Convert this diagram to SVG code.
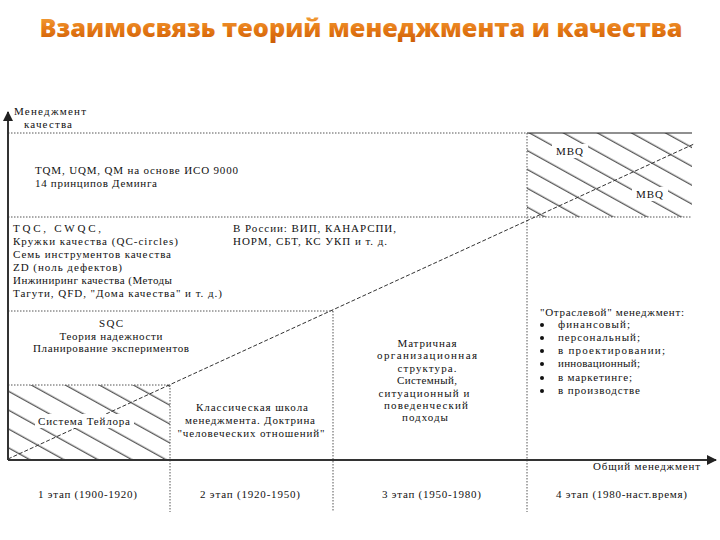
<svg xmlns="http://www.w3.org/2000/svg" width="720" height="540" viewBox="0 0 720 540">
<style>
.t{font-family:"Liberation Serif","Times New Roman",serif;font-size:11px;fill:#111}
.c{text-anchor:middle}
.dot{stroke:#555;stroke-width:1;stroke-dasharray:1.5 1.5;fill:none}
.axis{stroke:#333;stroke-width:2;fill:none}
.ttl{font-family:"Open Sans","DejaVu Sans",sans-serif;font-weight:800;font-size:25.3px;fill:url(#tg)}
</style>
<defs>
<linearGradient id="tg" x1="0" y1="0" x2="0" y2="1">
<stop offset="0" stop-color="#F8B04A"/>
<stop offset="0.55" stop-color="#E67A16"/>
<stop offset="1" stop-color="#C95A05"/>
</linearGradient>
<pattern id="hatch" patternUnits="userSpaceOnUse" width="20" height="16.5" patternTransform="rotate(29)">
<line x1="0" y1="8" x2="20" y2="8" stroke="#222" stroke-width="1"/>
</pattern>
<marker id="arr" viewBox="0 0 10 10" refX="9" refY="5" markerWidth="5" markerHeight="5" orient="auto" markerUnits="strokeWidth">
<path d="M0,0 L10,5 L0,10 z" fill="#222"/>
</marker>
</defs>
<rect width="720" height="540" fill="#fff"/>

<g id="title">
<text class="ttl" x="361" y="37" text-anchor="middle">Взаимосвязь теорий менеджмента и качества</text>
</g>

<g id="regions">
<rect x="527" y="133" width="165" height="84" fill="url(#hatch)"/>
<rect x="8" y="385" width="162" height="75" fill="url(#hatch)"/>
<line x1="527" y1="133" x2="692" y2="133" stroke="#222" stroke-width="1.2"/>
<line class="dot" x1="8" y1="133" x2="527" y2="133"/>
<line class="dot" x1="8" y1="217" x2="692" y2="217"/>
<line class="dot" x1="527" y1="133" x2="527" y2="512"/>
<line class="dot" x1="8" y1="311" x2="333" y2="311"/>
<line class="dot" x1="333" y1="311" x2="333" y2="512"/>
<line class="dot" x1="8" y1="385" x2="170" y2="385"/>
<line class="dot" x1="170" y1="385" x2="170" y2="512"/>
</g>

<g id="connectors">
<line x1="8" y1="459" x2="694" y2="144" stroke="#333" stroke-width="1" stroke-dasharray="4 2"/>
<line class="axis" x1="8" y1="460" x2="8" y2="112" marker-end="url(#arr)"/>
<line class="axis" x1="8" y1="460" x2="716" y2="460" marker-end="url(#arr)"/>
</g>

<g id="y-label">
<text class="t" x="14" y="115" textLength="72" lengthAdjust="spacing">Менеджмент</text>
<text class="t" x="24" y="128" textLength="48" lengthAdjust="spacing">качества</text>
</g>

<g id="tqm">
<text class="t" x="35" y="174" textLength="203" lengthAdjust="spacing">TQM, UQM, QM на основе ИСО 9000</text>
<text class="t" x="35" y="187" textLength="122" lengthAdjust="spacing">14 принципов Деминга</text>
</g>

<g id="mbq">
<rect x="552" y="144" width="36" height="14" fill="#fff"/>
<text class="t" x="556" y="155" textLength="27" lengthAdjust="spacing">MBQ</text>
<rect x="632" y="187" width="36" height="14" fill="#fff"/>
<text class="t" x="636" y="198" textLength="27" lengthAdjust="spacing">MBQ</text>
</g>

<g id="tqc">
<text class="t" x="13" y="232" textLength="88" lengthAdjust="spacing">TQC, CWQC,</text>
<text class="t" x="13" y="245" textLength="165" lengthAdjust="spacing">Кружки качества (QC-circles)</text>
<text class="t" x="13" y="258" textLength="158" lengthAdjust="spacing">Семь инструментов качества</text>
<text class="t" x="13" y="271" textLength="109" lengthAdjust="spacing">ZD (ноль дефектов)</text>
<text class="t" x="13" y="284" textLength="159" lengthAdjust="spacing">Инжиниринг качества (Методы</text>
<text class="t" x="13" y="297" textLength="209" lengthAdjust="spacing">Тагути, QFD, "Дома качества" и т. д.)</text>
</g>

<g id="russia">
<text class="t" x="233" y="232" textLength="163" lengthAdjust="spacing">В России: ВИП, КАНАРСПИ,</text>
<text class="t" x="233" y="245" textLength="154" lengthAdjust="spacing">НОРМ, СБТ, КС УКП и т. д.</text>
</g>

<g id="sqc">
<text class="t c" x="111" y="327" textLength="24" lengthAdjust="spacing">SQC</text>
<text class="t c" x="111" y="340" textLength="103" lengthAdjust="spacing">Теория надежности</text>
<text class="t c" x="111" y="352" textLength="156" lengthAdjust="spacing">Планирование экспериментов</text>
</g>

<g id="matrix">
<text class="t c" x="427" y="347" textLength="59" lengthAdjust="spacing">Матричная</text>
<text class="t c" x="427" y="359" textLength="100" lengthAdjust="spacing">организационная</text>
<text class="t c" x="427" y="372" textLength="59" lengthAdjust="spacing">структура.</text>
<text class="t c" x="427" y="384" textLength="60" lengthAdjust="spacing">Системный,</text>
<text class="t c" x="424" y="397" textLength="91" lengthAdjust="spacing">ситуационный и</text>
<text class="t c" x="426" y="409" textLength="84" lengthAdjust="spacing">поведенческий</text>
<text class="t c" x="425" y="421" textLength="46" lengthAdjust="spacing">подходы</text>
</g>

<g id="branch">
<text class="t" x="540" y="316" textLength="144" lengthAdjust="spacing">"Отраслевой" менеджмент:</text>
<g fill="#111">
<circle cx="542" cy="325" r="2"/>
<circle cx="542" cy="338" r="2"/>
<circle cx="542" cy="351" r="2"/>
<circle cx="542" cy="364" r="2"/>
<circle cx="542" cy="378" r="2"/>
<circle cx="542" cy="391" r="2"/>
</g>
<text class="t" x="558" y="328" textLength="72" lengthAdjust="spacing">финансовый;</text>
<text class="t" x="558" y="341" textLength="82" lengthAdjust="spacing">персональный;</text>
<text class="t" x="558" y="354" textLength="107" lengthAdjust="spacing">в проектировании;</text>
<text class="t" x="558" y="367" textLength="82" lengthAdjust="spacing">инновационный;</text>
<text class="t" x="558" y="381" textLength="74" lengthAdjust="spacing">в маркетинге;</text>
<text class="t" x="558" y="394" textLength="82" lengthAdjust="spacing">в производстве</text>
</g>

<g id="taylor">
<rect x="35" y="414" width="99" height="14" fill="#fff"/>
<text class="t" x="38" y="425" textLength="92" lengthAdjust="spacing">Система Тейлора</text>
</g>

<g id="classic">
<text class="t c" x="252" y="411" textLength="112" lengthAdjust="spacing">Классическая школа</text>
<text class="t c" x="250" y="424" textLength="130" lengthAdjust="spacing">менеджмента. Доктрина</text>
<text class="t c" x="251" y="437" textLength="147" lengthAdjust="spacing">"человеческих отношений"</text>
</g>

<g id="x-label">
<text class="t" x="700" y="470" text-anchor="end" textLength="107" lengthAdjust="spacing">Общий менеджмент</text>
</g>

<g id="stages">
<text class="t" x="38" y="498" textLength="99" lengthAdjust="spacing">1 этап (1900-1920)</text>
<text class="t" x="200" y="498" textLength="100" lengthAdjust="spacing">2 этап (1920-1950)</text>
<text class="t" x="382" y="498" textLength="99" lengthAdjust="spacing">3 этап (1950-1980)</text>
<text class="t" x="556" y="498" textLength="131" lengthAdjust="spacing">4 этап (1980-наст.время)</text>
</g>
</svg>
